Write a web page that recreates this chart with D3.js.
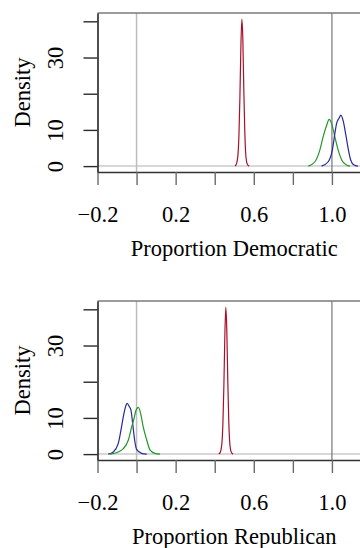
<!DOCTYPE html>
<html>
<head>
<meta charset="utf-8">
<script src="https://cdn.jsdelivr.net/npm/d3@7"></script>
<style>
    body { margin: 0; background: #fff; }
    svg { display: block; }
    text { font-family: "Liberation Serif", "Times New Roman", serif; fill: #000; }
</style>
</head>
<body>
<div id="chart"></div>
<script>
// tick values and labels (R drops the labels that would overlap)
var xTicks = [-0.2, 0, 0.2, 0.4, 0.6, 0.8, 1.0];
var xTickLabels = ["\u22120.2", "", "0.2", "", "0.6", "", "1.0"];
var yTicks = [0, 10, 20, 30, 40];
var yTickLabels = ["0", "10", "", "30", ""];
var xTitles = ["Proportion Democratic", "Proportion Republican"];

// density curves: Democratic panel
var demRedX = [0.504, 0.511, 0.518, 0.524, 0.529, 0.534, 0.539, 0.544, 0.549, 0.554, 0.560, 0.567, 0.576];
var demRedY = [0, 0.6, 2.5, 8.5, 19, 33, 40.6, 35, 21, 9.5, 2.5, 0.5, 0];
var demGreenX = [0.879, 0.913, 0.938, 0.955, 0.973, 0.986, 0.998, 1.015, 1.032, 1.050, 1.075, 1.092];
var demGreenY = [0, 1.2, 4.4, 8.1, 11.3, 12.9, 11.8, 8.1, 4.4, 1.7, 0.3, 0];
var demBlueX = [0.947, 0.981, 1.002, 1.015, 1.024, 1.036, 1.046, 1.058, 1.070, 1.083, 1.096, 1.113, 1.133];
var demBlueY = [0, 1.2, 4.4, 9.0, 11.8, 13.2, 14.1, 12.4, 9.0, 4.9, 1.7, 0.3, 0];

// Republican panel
var repRedX = [0.421, 0.429, 0.436, 0.442, 0.447, 0.452, 0.457, 0.462, 0.467, 0.472, 0.478, 0.485, 0.494];
var repRedY = [0, 0.6, 2.5, 8.5, 19, 33, 40.6, 34, 20, 9, 2.5, 0.5, 0];
var repGreenX = [-0.136, -0.094, -0.068, -0.042, -0.025, -0.013, -0.003, 0.009, 0.021, 0.034, 0.052, 0.069, 0.094, 0.120];
var repGreenY = [0, 0.6, 1.5, 3.9, 7.5, 9.8, 12.1, 12.9, 11.2, 7.5, 3.9, 1.1, 0.2, 0];
var repBlueX = [-0.145, -0.119, -0.094, -0.080, -0.068, -0.054, -0.048, -0.037, -0.029, -0.020, -0.010, 0.000, 0.026, 0.052];
var repBlueY = [0, 0.6, 2.9, 6.6, 10.3, 13.5, 14.0, 13.1, 12.2, 8.5, 3.9, 1.3, 0.2, 0];

var colors = { red: "#a8102a", green: "#23962a", blue: "#28289a" };

function toPoints(xs, ys) {
    return xs.map(function (x, i) {
        return { x: x, y: ys[i] };
    });
}

var panels = [
    {
        title: xTitles[0],
        curves: [
            { color: colors.red, pts: toPoints(demRedX, demRedY) },
            { color: colors.green, pts: toPoints(demGreenX, demGreenY) },
            { color: colors.blue, pts: toPoints(demBlueX, demBlueY) }
        ]
    },
    {
        title: xTitles[1],
        curves: [
            { color: colors.red, pts: toPoints(repRedX, repRedY) },
            { color: colors.blue, pts: toPoints(repBlueX, repBlueY) },
            { color: colors.green, pts: toPoints(repGreenX, repGreenY) }
        ]
    }
];

var margin = { top: 13, left: 97.5 };
var width = 273.5;     // plot region runs past the right edge of the picture
var height = 159;
var panelStep = 288;
var fontSize = 22.5;

var svg = d3.select("#chart").append("svg")
    .attr("width", 360)
    .attr("height", 548);

var x = d3.scaleLinear()
    .domain([-0.2, 1.2])
    .range([0, width]);

var y = d3.scaleLinear()
    .domain([-1.63, 42.3])
    .range([height, 0]);

var line = d3.line()
    .x(function (d) { return x(d.x); })
    .y(function (d) { return y(d.y); })
    .curve(d3.curveMonotoneX);

panels.forEach(function (p, i) {
    var g = svg.append("g")
        .attr("transform", "translate(" + margin.left + "," + (margin.top + i * panelStep) + ")");

    // reference lines
    g.append("line")
        .attr("x1", 0).attr("x2", width)
        .attr("y1", y(0)).attr("y2", y(0))
        .attr("stroke", "#cbcbcb").attr("stroke-width", 1.5);
    g.append("line")
        .attr("x1", x(0)).attr("x2", x(0))
        .attr("y1", 0).attr("y2", height)
        .attr("stroke", "#bdbdbd").attr("stroke-width", 1.5);
    g.append("line")
        .attr("x1", x(1)).attr("x2", x(1))
        .attr("y1", 0).attr("y2", height)
        .attr("stroke", "#808080").attr("stroke-width", 1.3);

    // top of the box
    g.append("line")
        .attr("x1", 0).attr("x2", width)
        .attr("y1", 0).attr("y2", 0)
        .attr("stroke", "#7a7a7a").attr("stroke-width", 1.6);

    // densities
    g.selectAll("path.density")
        .data(p.curves)
        .enter()
        .append("path")
        .attr("class", "density")
        .attr("d", function (d) { return line(d.pts); })
        .attr("fill", "none")
        .attr("stroke", function (d) { return d.color; })
        .attr("stroke-width", 1.2);

    // x axis
    var xAxisCall = d3.axisBottom(x)
        .tickValues(xTicks)
        .tickSize(13)
        .tickSizeOuter(0)
        .tickFormat(function (d, k) { return xTickLabels[k]; });
    var xg = g.append("g")
        .attr("class", "x-axis")
        .attr("transform", "translate(0," + height + ")")
        .call(xAxisCall);
    xg.select(".domain").attr("stroke", "#333").attr("stroke-width", 1.6);
    xg.selectAll(".tick line").attr("stroke", "#6a6a6a").attr("stroke-width", 1.4);
    xg.selectAll("text")
        .attr("y", 49.5)
        .attr("dy", 0)
        .style("font-family", "'Liberation Serif', serif")
        .style("font-size", fontSize + "px")
        .attr("fill", "#000");

    // y axis
    var yAxisCall = d3.axisLeft(y)
        .tickValues(yTicks)
        .tickSize(14)
        .tickSizeOuter(0)
        .tickFormat(function (d, k) { return yTickLabels[k]; });
    var yg = g.append("g")
        .attr("class", "y-axis")
        .call(yAxisCall);
    yg.select(".domain").attr("stroke", "#222").attr("stroke-width", 1.6);
    yg.selectAll(".tick line").attr("stroke", "#2a2a2a").attr("stroke-width", 1.4);
    yg.selectAll("text")
        .attr("x", 0)
        .attr("y", -34.2)
        .attr("dy", 0)
        .attr("text-anchor", "middle")
        .attr("transform", "rotate(-90)")
        .style("font-family", "'Liberation Serif', serif")
        .style("font-size", fontSize + "px")
        .attr("fill", "#000");

    // axis titles
    g.append("text")
        .attr("x", width / 2)
        .attr("y", 243)
        .attr("text-anchor", "middle")
        .style("font-size", fontSize + "px")
        .text(p.title);

    g.append("text")
        .attr("transform", "translate(" + (-68) + "," + (height / 2) + ") rotate(-90)")
        .attr("text-anchor", "middle")
        .style("font-size", fontSize + "px")
        .text("Density");
});
</script>
</body>
</html>
